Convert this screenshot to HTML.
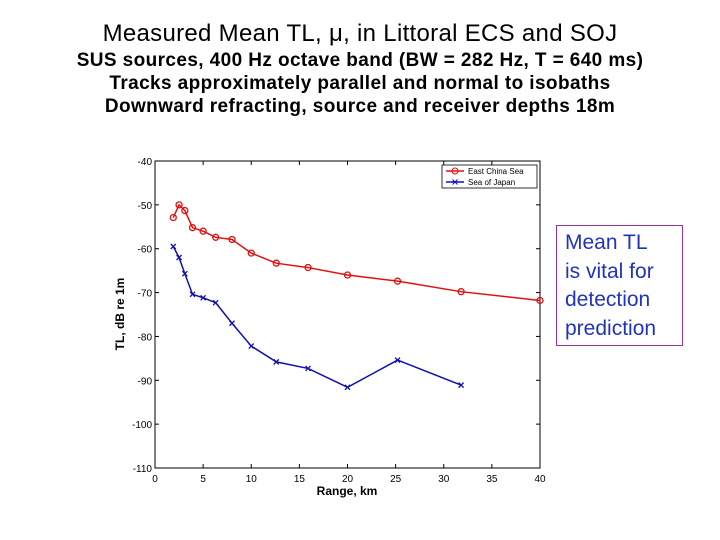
<!DOCTYPE html>
<html><head><meta charset="utf-8"><style>
body{margin:0;background:#fff;font-family:"Liberation Sans",Arial,sans-serif}
#wrap{position:relative;width:720px;height:540px;overflow:hidden;background:#fff}
.t{position:absolute;left:0;width:720px;text-align:center;color:#000;white-space:nowrap}
#note{position:absolute;left:556px;top:225px;width:127px;height:121px;border:1px solid #993399;font-size:21px;line-height:28.5px;padding:3px 0 0 8px;box-sizing:border-box;color:#2233bb}
</style></head><body>
<div id="wrap">
<div class="t" style="top:20px;font-size:24px;letter-spacing:0.3px">Measured Mean TL, μ, in Littoral ECS and SOJ</div>
<div class="t" style="top:50px;font-size:19px;font-weight:bold;letter-spacing:0.4px">SUS sources, 400 Hz octave band (BW = 282 Hz, T = 640 ms)</div>
<div class="t" style="top:73px;font-size:19px;font-weight:bold;letter-spacing:0.4px">Tracks approximately parallel and normal to isobaths</div>
<div class="t" style="top:96px;font-size:19px;font-weight:bold;letter-spacing:0.4px">Downward refracting, source and receiver depths 18m</div>
<svg id="chart" width="720" height="540" style="position:absolute;left:0;top:0"></svg>
<div id="note">Mean TL<br>is vital for<br>detection<br>prediction</div>
</div>
<script>
const xTicks=[0,5,10,15,20,25,30,35,40];
const yTicks=[-40,-50,-60,-70,-80,-90,-100,-110];
const ecsRange=[1.9,2.5,3.1,3.9,5.0,6.3,8.0,10.0,12.6,15.9,20.0,25.2,31.8,40.0];
const ecsTL=[-52.9,-50.0,-51.3,-55.2,-56.0,-57.4,-57.9,-61.0,-63.3,-64.3,-66.0,-67.4,-69.8,-71.8];
const sojRange=[1.9,2.5,3.1,3.9,5.0,6.3,8.0,10.0,12.6,15.9,20.0,25.2,31.8];
const sojTL=[-59.5,-62.0,-65.7,-70.4,-71.2,-72.3,-77.0,-82.2,-85.8,-87.3,-91.6,-85.4,-91.1];
const svg=document.getElementById('chart');const NS='http://www.w3.org/2000/svg';
const L=155,R=540,T=161,B=468;
const sx=v=>L+(v-0)/40*(R-L);
const sy=v=>T+(-40-v)/70*(B-T);
function mk(tag,at,p){const e=document.createElementNS(NS,tag);for(const k in at)e.setAttribute(k,at[k]);(p||svg).appendChild(e);return e;}
const frame=mk('rect',{x:L,y:T,width:R-L,height:B-T,fill:'none',stroke:'#000','stroke-width':1});


xTicks.forEach(v=>{const x=sx(v);
 mk('line',{x1:x,x2:x,y1:B,y2:B-4,stroke:'#000'});mk('line',{x1:x,x2:x,y1:T,y2:T+4,stroke:'#000'});
 const t=mk('text',{x:x,y:B+14,'font-size':10,'text-anchor':'middle','font-family':'Liberation Sans'});t.textContent=v;
 
 });
yTicks.forEach(v=>{const y=sy(v);
 mk('line',{x1:L,x2:L+4,y1:y,y2:y,stroke:'#000'});mk('line',{x1:R,x2:R-4,y1:y,y2:y,stroke:'#000'});
 const t=mk('text',{x:L-3,y:y+4,'font-size':10,'text-anchor':'end','font-family':'Liberation Sans'});t.textContent=v;
 
 });
const xt=mk('text',{x:347,y:495,'font-size':12,'font-weight':'bold','text-anchor':'middle','font-family':'Liberation Sans'});xt.textContent='Range, km';


const yt=mk('text',{x:0,y:0,'font-size':12,'font-weight':'bold','text-anchor':'middle','font-family':'Liberation Sans',transform:'translate(124,314) rotate(-90)'});yt.textContent='TL, dB re 1m';


function series(xs,ys,col,name,marker){
 const pts=xs.map((x,i)=>sx(x)+','+sy(ys[i])).join(' ');
 const pl=mk('polyline',{points:pts,fill:'none',stroke:col,'stroke-width':1.5});
 
 
 xs.forEach((x,i)=>{const cx=sx(x),cy=sy(ys[i]);let m;
  if(marker==='o'){m=mk('circle',{cx:cx,cy:cy,r:3,fill:'none',stroke:col,'stroke-width':1.3});}
  else{m=mk('path',{d:`M${cx-2.5},${cy-2.5}L${cx+2.5},${cy+2.5}M${cx-2.5},${cy+2.5}L${cx+2.5},${cy-2.5}`,stroke:col,'stroke-width':1.3});}
  
  });
}
series(ecsRange,ecsTL,'#e01010','ecs','o');
series(sojRange,sojTL,'#1010b0','soj','x');
const lg=mk('rect',{x:442,y:165,width:95,height:23,fill:'#fff',stroke:'#000','stroke-width':0.8});


mk('line',{x1:446,x2:464,y1:171,y2:171,stroke:'#e01010','stroke-width':1.5});
mk('circle',{cx:455,cy:171,r:3,fill:'none',stroke:'#e01010'});
mk('line',{x1:446,x2:464,y1:182,y2:182,stroke:'#1010b0','stroke-width':1.5});
mk('path',{d:'M452.5,179.5L457.5,184.5M452.5,184.5L457.5,179.5',stroke:'#1010b0'});
const l1=mk('text',{x:468,y:174,'font-size':8,'font-family':'Liberation Sans'});l1.textContent='East China Sea';


const l2=mk('text',{x:468,y:185,'font-size':8,'font-family':'Liberation Sans'});l2.textContent='Sea of Japan';


</script>
</body></html>
